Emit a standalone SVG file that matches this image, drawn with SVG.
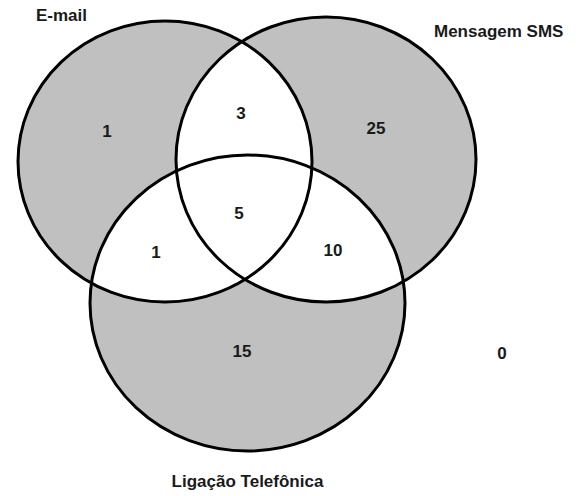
<svg xmlns="http://www.w3.org/2000/svg" width="578" height="496" viewBox="0 0 578 496">
  <style>
    .set { fill: #c0c0c0; stroke: none; }
    .outline { fill: none; stroke: #000; stroke-width: 3; }
    .inter { fill: #fff; stroke: none; }
    text { font-family: "Liberation Sans", Arial, sans-serif; font-weight: bold; font-size: 17px; fill: #1a1a1a; text-anchor: middle; }
    .title { text-anchor: start; }
  </style>
  <defs>
    <ellipse id="shapeE" cx="165" cy="161.5" rx="147" ry="140.5"/>
    <ellipse id="shapeS" cx="326" cy="159.5" rx="150" ry="142.5"/>
    <ellipse id="shapeL" cx="247.5" cy="303" rx="157.5" ry="148"/>
    <clipPath id="clipE"><use href="#shapeE"/></clipPath>
    <clipPath id="clipS"><use href="#shapeS"/></clipPath>
    <clipPath id="clipL"><use href="#shapeL"/></clipPath>
  </defs>
  <rect width="578" height="496" fill="#fff"/>

  <g id="fills">
    <use href="#shapeE" class="set"/>
    <use href="#shapeS" class="set"/>
    <use href="#shapeL" class="set"/>
    <use href="#shapeE" class="inter" clip-path="url(#clipS)"/>
    <use href="#shapeE" class="inter" clip-path="url(#clipL)"/>
    <use href="#shapeS" class="inter" clip-path="url(#clipL)"/>
  </g>

  <g id="node-email">
    <use href="#shapeE" class="outline"/>
    <text class="title" x="36" y="21">E-mail</text>
  </g>
  <g id="node-sms">
    <use href="#shapeS" class="outline"/>
    <text class="title" x="434" y="37">Mensagem SMS</text>
  </g>
  <g id="node-ligacao">
    <use href="#shapeL" class="outline"/>
    <text x="247.5" y="487">Ligação Telefônica</text>
  </g>

  <g id="connectors"></g>

  <g id="region-counts">
    <text x="107" y="137">1</text>
    <text x="241" y="119">3</text>
    <text x="376" y="134">25</text>
    <text x="239" y="219">5</text>
    <text x="156" y="258">1</text>
    <text x="333" y="256">10</text>
    <text x="242" y="357">15</text>
    <text x="502" y="359">0</text>
  </g>
</svg>
